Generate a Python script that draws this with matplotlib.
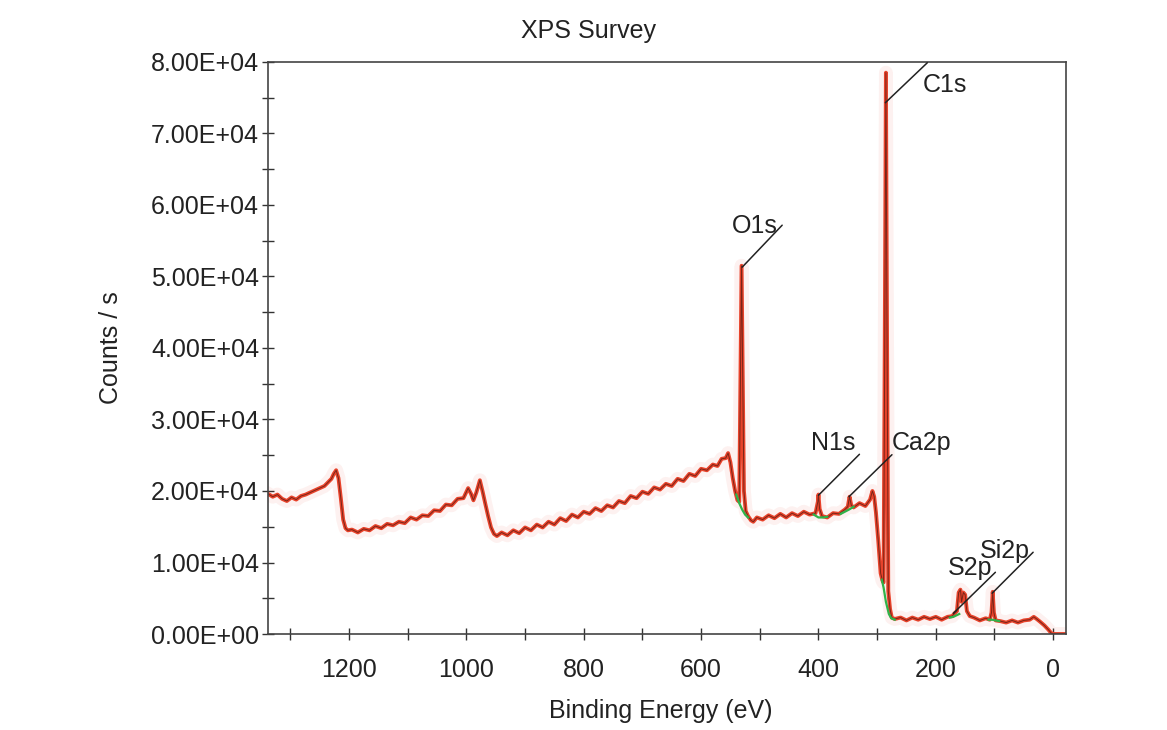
import matplotlib.pyplot as plt
from matplotlib.ticker import MultipleLocator, FormatStrFormatter, FuncFormatter

plt.rcParams["font.family"] = ["Liberation Sans", "DejaVu Sans"]

# survey spectrum, binding energy (eV) and counts per second
energy = [
    1338, 1330, 1322, 1314, 1306, 1298, 1290, 1282, 1274, 1266, 1258, 1250,
    1242, 1236, 1230, 1226, 1222, 1218, 1214, 1210, 1206, 1202, 1195, 1185,
    1175, 1165, 1155, 1145, 1135, 1125, 1115, 1105, 1095, 1085, 1075, 1065,
    1055, 1045, 1035, 1025, 1015, 1005, 997, 992, 988, 983, 977, 972, 968,
    963, 958, 953, 948, 940, 930, 920, 910, 900, 890, 880, 870, 860, 850,
    840, 830, 820, 810, 800, 790, 780, 770, 760, 750, 740, 730, 720, 710,
    700, 690, 680, 670, 660, 650, 640, 630, 620, 610, 600, 590, 580, 572,
    565, 558, 554, 550, 546, 542, 538, 535, 533, 531, 529, 527, 524, 520,
    515, 511, 505, 495, 485, 475, 465, 455, 445, 435, 425, 415, 405, 401,
    400, 398, 394, 385, 375, 365, 355, 350, 347, 344, 340, 330, 320, 312,
    308, 305, 302, 298, 294, 291, 289, 287, 285, 283, 281, 278, 275, 270,
    260, 250, 240, 230, 220, 210, 200, 190, 180, 172, 168, 164, 161, 158,
    156, 153, 150, 147, 142, 135, 125, 115, 108, 105, 103, 101, 98, 90, 80,
    70, 60, 50, 40, 33, 28, 22, 15, 8, 3, 0, -22,
]
counts = [
    19600, 19200, 19500, 18900, 18600, 19100, 18800, 19300, 19500, 19800,
    20100, 20400, 20700, 21200, 21700, 22400, 22900, 21800, 19000, 16000,
    14800, 14500, 14600, 14200, 14700, 14500, 15100, 14800, 15400, 15200,
    15700, 15500, 16300, 16000, 16600, 16500, 17300, 17200, 18100, 18000,
    18900, 19000, 20400, 19600, 18700, 19800, 21500, 19800, 18300, 16500,
    14900, 14000, 13700, 14200, 13800, 14500, 14100, 14900, 14500, 15300,
    14900, 15700, 15300, 16200, 15800, 16700, 16300, 17100, 16800, 17600,
    17200, 18000, 17700, 18600, 18300, 19300, 19000, 19900, 19600, 20500,
    20200, 21000, 20700, 21700, 21400, 22400, 22100, 23100, 22900, 23700,
    23500, 24500, 24600, 25300, 24000, 21800, 20000, 18700, 18500, 35000,
    51500, 36000, 20000, 17200, 16500, 15900, 15700, 16300, 16000, 16600,
    16200, 16800, 16300, 16900, 16500, 17100, 16700, 16900, 18500, 19500,
    17500, 16500, 16300, 16900, 16800, 17400, 17800, 19200, 18000, 17700,
    18300, 17900, 18800, 20000, 19200, 17000, 13000, 8500, 7500, 7200,
    40000, 78500, 40000, 6000, 3500, 2300, 2100, 2300, 1900, 2300, 2000,
    2400, 2100, 2400, 2000, 2400, 2500, 2900, 3200, 5800, 6200, 4500, 5800,
    5500, 3200, 2500, 2300, 1900, 2200, 2000, 3000, 5900, 3000, 1900, 1800,
    1600, 1900, 1600, 1900, 2000, 2400, 2100, 1700, 1200, 600, 100, 0, 0,
]

# fitted backgrounds under the peaks (green)
backgrounds = [
    ([540, 535, 530, 525, 520], [19500, 18300, 17400, 16700, 16300]),
    ([408, 400, 392, 385], [16700, 16300, 16300, 16400]),
    ([362, 355, 348, 340], [16800, 17100, 17400, 17800]),
    ([292, 289, 285, 280, 276, 270], [7600, 6500, 4500, 2800, 2200, 2000]),
    ([176, 170, 165, 160], [2300, 2400, 2600, 2800]),
    ([110, 104, 98, 92], [2000, 2000, 1900, 1800]),
]

# peak labels
peak_names = ["O1s", "C1s", "N1s", "Ca2p", "S2p", "Si2p"]
peak_energy = [530, 286, 400, 348, 170, 104]
peak_counts = [51300, 74300, 19400, 19200, 2900, 5700]
# leader end and label centre offsets in pixels
line_offsets = [(40, 42), (42, 40), (41, 41), (43, 42), (42, 41), (41, 41)]
text_offsets = [(13, 41), (60, 18), (15, 52), (73, 54), (17, 45), (13, 42)]

fig = plt.figure(figsize=(11.67, 7.30), dpi=100)
ax = fig.add_axes([0.2297, 0.1315, 0.6838, 0.7836])

red = "#e8432b"
ax.plot(energy, counts, color=red, lw=10, alpha=0.07, solid_joinstyle="round")
ax.plot(energy, counts, color=red, lw=2.8)
ax.plot(energy, counts, color="#4a1810", lw=0.7, alpha=0.7)
for bx, by in backgrounds:
    ax.plot(bx, by, color="#2fb34a", lw=1.6)

px = 72 / fig.dpi
for name, xe, yc, lo, to in zip(peak_names, peak_energy, peak_counts,
                                line_offsets, text_offsets):
    ax.annotate("", xy=(xe, yc), xytext=(lo[0] * px, lo[1] * px),
                textcoords="offset points",
                arrowprops=dict(arrowstyle="-", color="#222222", lw=1.1,
                                shrinkA=0, shrinkB=0))
    ax.annotate(name, xy=(xe, yc), xytext=(to[0] * px, to[1] * px),
                textcoords="offset points", ha="center", va="center",
                fontsize=18, color="#222222")

ax.set_xlim(1338, -22)
ax.set_ylim(0, 80000)

ax.xaxis.set_major_locator(MultipleLocator(200))
ax.xaxis.set_minor_locator(MultipleLocator(100))
ax.yaxis.set_major_locator(MultipleLocator(10000))
ax.yaxis.set_minor_locator(MultipleLocator(5000))
ax.xaxis.set_major_formatter(FormatStrFormatter("%d"))
ax.yaxis.set_major_formatter(FuncFormatter(lambda v, p: f"{v:.2E}"))

ax.tick_params(which="both", direction="inout", length=9, width=1.0,
               color="#333333", labelsize=18, labelcolor="#222222",
               top=False, right=False)
ax.tick_params(axis="y", pad=2)
ax.tick_params(axis="x", pad=13)
for s in ax.spines.values():
    s.set_color("#444444")
    s.set_linewidth(1.2)

ax.set_title("XPS Survey", fontsize=18, color="#222222", pad=17)
ax.title.set_x(0.402)
ax.set_xlabel("Binding Energy (eV)", fontsize=18, color="#222222", labelpad=12)
ax.xaxis.label.set_x(0.4925)
ax.set_ylabel("Counts / s", fontsize=18, color="#222222", labelpad=20)

fig.savefig("out.png", dpi=100)
